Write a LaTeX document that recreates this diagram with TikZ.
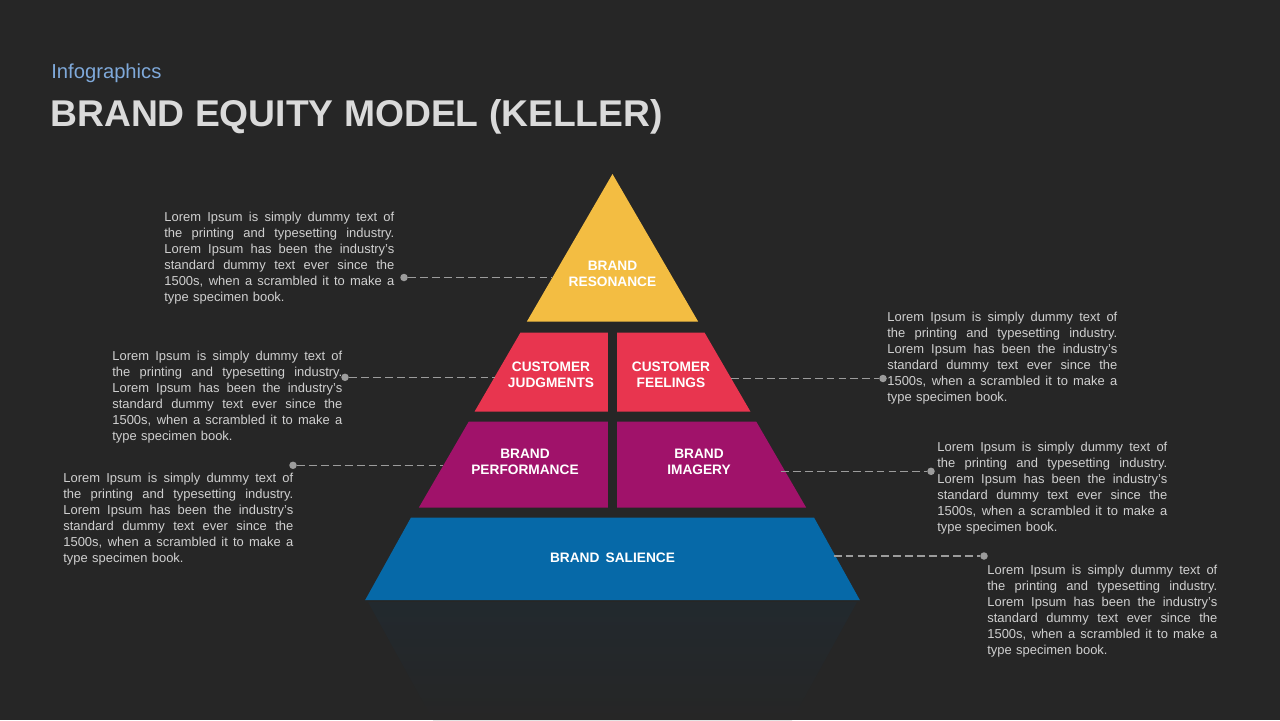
\documentclass[tikz,border=0pt]{standalone}
\usepackage{fontspec}
\setmainfont{Liberation Sans}
\usepackage{xcolor}
\definecolor{bg}{HTML}{262626}
\definecolor{shadow}{HTML}{22292E}
\definecolor{sun}{HTML}{F3BD42}
\definecolor{rose}{HTML}{E8354F}
\definecolor{plum}{HTML}{A0126A}
\definecolor{ocean}{HTML}{0669A8}
\definecolor{lightalu}{HTML}{D0D0D0}
\definecolor{titlegray}{HTML}{DADADA}
\definecolor{sky}{HTML}{7FA9DA}
\definecolor{dotgray}{HTML}{9C9C9C}
\usepackage{tikz}

\newcommand{\jline}[1]{\leavevmode\hbox to 4.6cm{\spaceskip=0.278em plus 1fil\relax #1}\\}
\newcommand{\lorem}{%
\jline{Lorem Ipsum is simply dummy text of}
\jline{the printing and typesetting industry.}
\jline{Lorem Ipsum has been the industry's}
\jline{standard dummy text ever since the}
\jline{1500s, when a scrambled it to make a}
type specimen book.}

\begin{document}
\begin{tikzpicture}[x=0.02cm, y=-0.02cm]

%\draw[step=100] (0,0) grid (1280,720);

\tikzstyle{lbl}=[
	text=white,
	font=\fontsize{7.8}{9.07}\selectfont\bfseries,
	align=center,
	inner sep=0
]
\tikzstyle{txt}=[
	text=lightalu,
	font=\fontsize{7.37}{9.07}\selectfont,
	text width=4.6cm,
	align=left,
	inner sep=0,
	anchor=base west
]
\tikzstyle{dot}=[
	circle,
	fill=dotgray,
	inner sep=0,
	minimum size=0.15cm
]
\tikzstyle{lead}=[draw=dotgray, dash pattern=on 4.5pt off 2.3pt, line width=0.6pt]

\fill[bg] (0,0) rectangle (1280,720);
\useasboundingbox (0,0) rectangle (1280,720);

\node[anchor=base west, inner sep=0, text=sky, font=\fontsize{11.5}{13}\selectfont]
	(sub) at (51,78) {Infographics};
\node[anchor=base west, inner sep=0, text=titlegray, font=\fontsize{21.2}{25}\selectfont\bfseries]
	(title) at (50,126) {BRAND EQUITY MODEL (KELLER)};

% reflection
\shade[top color=shadow, bottom color=bg]
	(368,602) -- (857,602) -- (792,720) -- (433,720) -- cycle;

% pyramid
\fill[sun] (612.5,174) -- (698.1,321.5) -- (526.9,321.5) -- cycle;
\fill[rose] (520.5,332.5) -- (607.8,332.5) -- (607.8,411.5) -- (474.6,411.5) -- cycle;
\fill[rose] (617.2,332.5) -- (704.5,332.5) -- (750.4,411.5) -- (617.2,411.5) -- cycle;
\fill[plum] (468.8,421.5) -- (607.8,421.5) -- (607.8,507.5) -- (418.9,507.5) -- cycle;
\fill[plum] (617.2,421.5) -- (756.2,421.5) -- (806.1,507.5) -- (617.2,507.5) -- cycle;
\fill[ocean] (411,517.5) -- (814,517.5) -- (859.8,600) -- (365.2,600) -- cycle;

\node[lbl] (res) at (612.5,274) {BRAND\\RESONANCE};
\node[lbl] (cj) at (551,375) {CUSTOMER\\JUDGMENTS};
\node[lbl] (cf) at (671,375) {CUSTOMER\\FEELINGS};
\node[lbl] (bp) at (525,462) {BRAND\\PERFORMANCE};
\node[lbl] (bi) at (699,462) {BRAND\\IMAGERY};
\node[lbl] (sal) at (612.5,558) {BRAND\hspace{0.45em}SALIENCE};

% texts
\node[txt] (txt1) at (164,221.5) {\lorem};
\node[txt] (txt2) at (112,360.5) {\lorem};
\node[txt] (txt3) at (887,321.5) {\lorem};
\node[txt] (txt4) at (63,482.5) {\lorem};
\node[txt] (txt5) at (937,451.5) {\lorem};
\node[txt] (txt6) at (987,574.5) {\lorem};

% leaders
\coordinate (e1) at (552.3,277.5);
\coordinate (e2) at (494.5,377.3);
\coordinate (e3) at (731,378.5);
\coordinate (e4) at (443.4,465.3);
\coordinate (e5) at (781,471.3);
\coordinate (e6) at (833.6,556);

\node[dot] (d1) at (404,277.5) {};
\node[dot] (d2) at (345,377.3) {};
\node[dot] (d3) at (883,378.5) {};
\node[dot] (d4) at (293,465.3) {};
\node[dot] (d5) at (931,471.3) {};
\node[dot] (d6) at (984,556) {};

\draw[lead] (d1) -- (e1);
\draw[lead] (d2) -- (e2);
\draw[lead] (e3) -- (d3);
\draw[lead] (d4) -- (e4);
\draw[lead] (e5) -- (d5);
\draw[lead] (e6) -- (d6);

\end{tikzpicture}
\end{document}
